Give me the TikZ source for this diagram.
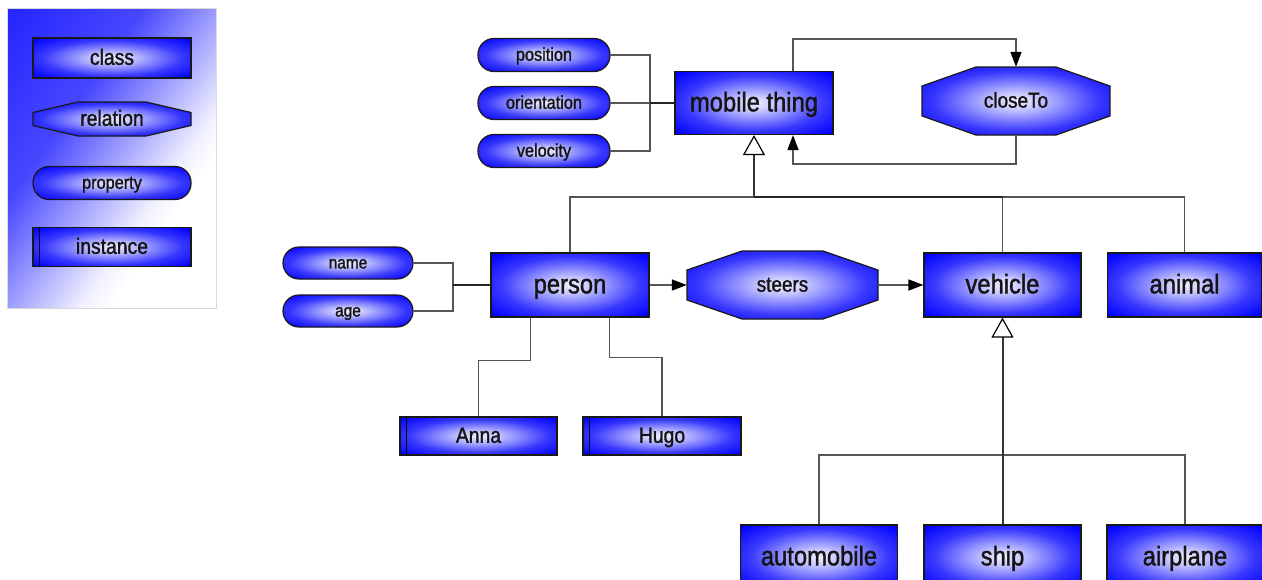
\documentclass[tikz,border=0pt]{standalone}
\usepackage{fontspec}
\setmainfont{Liberation Sans}[FakeStretch=0.88,FakeBold=1.4]
\usetikzlibrary{arrows.meta}
\definecolor{txt}{HTML}{141414}
\definecolor{lnk}{HTML}{555555}
\pgfdeclareradialshading{nodeshade}{\pgfpoint{0bp}{0bp}}{color(0bp)=(blue!6); color(6bp)=(blue!22); color(22bp)=(blue!78); color(34bp)=(blue); color(100bp)=(blue)}
\pgfdeclarehorizontalshading{legshade}{100bp}{color(0bp)=(blue!95); color(38bp)=(blue!72); color(62bp)=(blue!6); color(67bp)=(white); color(100bp)=(white)}
\tikzset{
  shp/.style={draw=black!90, line width=1.2pt, shade, shading=nodeshade},
  lbl/.style={text=txt, inner sep=0pt, rectangle},
  cls/.style={lbl, shp, font=\fontsize{27}{30}\selectfont, text height=16.7pt, text depth=0pt},
  lgd/.style={lbl, shp, font=\fontsize{22}{26}\selectfont, text height=13.6pt, text depth=0pt},
  inst/.style={lbl, shp, font=\fontsize{22}{26}\selectfont, text height=13.6pt, text depth=0pt},
  prop/.style={lbl, shp, rounded corners=16pt, font=\fontsize{18.5}{22}\selectfont, text height=11.5pt, text depth=0pt},
  propsm/.style={prop, font=\fontsize{17.5}{21}\selectfont, text height=10.9pt},
  reltxt/.style={lbl, font=\fontsize{21.5}{25}\selectfont, text height=13.3pt, text depth=0pt},
  lgdrel/.style={lbl, font=\fontsize{22}{26}\selectfont, text height=13.6pt, text depth=0pt},
  conn/.style={draw=lnk, line width=1.6pt},
  bus/.style={draw=black!85, line width=2.6pt},
  arr/.style={conn, -{Triangle[length=15pt,width=11pt,fill=black,color=black]}},
  inh/.style={draw=black!80, line width=2pt, -{Triangle[length=20pt,width=22pt,fill=white,color=black,line width=1.2pt]}},
  instline/.style={draw=black, line width=1.6pt}
}
\newcommand\relshape[6]{%
  \shade[shp] ({#1-#3},{#2-#6}) -- ({#1-#3+#5},{#2-#4}) -- ({#1+#3-#5},{#2-#4}) -- ({#1+#3},{#2-#6}) -- ({#1+#3},{#2+#6}) -- ({#1+#3-#5},{#2+#4}) -- ({#1-#3+#5},{#2+#4}) -- ({#1-#3},{#2+#6}) -- cycle;}
\begin{document}
\begin{tikzpicture}[x=1pt,y=-1pt]
\useasboundingbox (0,0) rectangle (1262,579);
\clip (0,0) rectangle (1262,579);
\fill[white] (0,0) rectangle (1262,579);
% legend
\shade[shading=legshade, shading angle=-35, draw=black!15, line width=1pt] (7,8) rectangle (216,308);
\node[lgd, minimum width=158pt, minimum height=40pt] (lclass) at (112,58) {class};
\relshape{112}{119}{79}{17}{45}{6.5}
\node[lgdrel, minimum width=158pt, minimum height=34pt] (lrel) at (112,119) {relation};
\node[prop, minimum width=158pt, minimum height=33pt] (lprop) at (112,183) {property};
\node[inst, minimum width=158pt, minimum height=39pt] (linst) at (112,247) {instance};
\draw[instline] ([xshift=7pt]linst.north west) -- ([xshift=7pt]linst.south west);
% mobile thing and properties
\node[cls, minimum width=158pt, minimum height=63pt] (mt) at (754,103) {mobile thing};
\node[prop, minimum width=132pt, minimum height=33pt] (pos) at (544,55) {position};
\node[prop, minimum width=132pt, minimum height=33pt] (ori) at (544,103) {orientation};
\node[prop, minimum width=132pt, minimum height=33pt] (vel) at (544,151) {velocity};
\coordinate (mtbus) at (650,103);
\draw[conn] (pos.east) -| (mtbus);
\draw[conn] (vel.east) -| (mtbus);
\draw[conn] (ori.east) -- (mtbus);
\draw[bus] (mtbus) -- (mt.west);
% closeTo
\relshape{1016}{101}{94}{34}{54}{15}
\node[reltxt, minimum width=188pt, minimum height=68pt] (ct) at (1016,101) {closeTo};
\draw[arr] ([xshift=39pt]mt.north) -- ++(0pt,32pt) -| (ct.north);
\draw[arr] (ct.south) -- ++(0pt,-29pt) -| ([xshift=39pt]mt.south);
% second row
\node[cls, minimum width=158pt, minimum height=64pt] (person) at (570,285) {person};
\relshape{782.5}{285}{95.5}{34}{55}{15}
\node[reltxt, minimum width=191pt, minimum height=68pt] (steers) at (782.5,285) {steers};
\node[cls, minimum width=157pt, minimum height=64pt] (vehicle) at (1002.5,285) {vehicle};
\node[cls, minimum width=154pt, minimum height=64pt] (animal) at (1184.5,285) {animal};
\coordinate (hbus) at (754,197);
\draw[conn] (person.north) |- (hbus);
\draw[conn] (hbus) -| (animal.north);
\draw[conn] (vehicle.north) -- (vehicle.north |- hbus);
\draw[bus, line width=2.2pt] (hbus) -- (vehicle.north |- hbus);
\draw[inh] (hbus) -- (mt.south);
\draw[arr] (person.east) -- (steers.west);
\draw[arr] (steers.east) -- (vehicle.west);
% name / age
\node[propsm, minimum width=130pt, minimum height=32pt] (name) at (348,263) {name};
\node[propsm, minimum width=130pt, minimum height=32pt] (age) at (348,311) {age};
\coordinate (pbus) at (453,285);
\draw[conn] (name.east) -| (pbus);
\draw[conn] (age.east) -| (pbus);
\draw[bus] (pbus) -- (person.west);
% instances
\node[inst, minimum width=157pt, minimum height=38pt] (anna) at (478.5,436) {Anna};
\node[inst, minimum width=158pt, minimum height=38pt] (hugo) at (662,436) {Hugo};
\draw[instline] ([xshift=7pt]anna.north west) -- ([xshift=7pt]anna.south west);
\draw[instline] ([xshift=7pt]hugo.north west) -- ([xshift=7pt]hugo.south west);
\draw[conn] ([xshift=-39.5pt]person.south) -- ++(0pt,-43pt) -| (anna.north);
\draw[conn] ([xshift=39.5pt]person.south) -- ++(0pt,-40pt) -| (hugo.north);
% vehicle subclasses
\node[cls, minimum width=157pt, minimum height=64pt] (auto) at (819,557) {automobile};
\node[cls, minimum width=157pt, minimum height=64pt] (ship) at (1002.5,557) {ship};
\node[cls, minimum width=156pt, minimum height=64pt] (air) at (1185,557) {airplane};
\coordinate (vbus) at (1002.5,455);
\draw[conn] (auto.north) |- (vbus);
\draw[conn] (air.north) |- (vbus);
\draw[inh] (ship.north) -- (vehicle.south);
\end{tikzpicture}
\end{document}
